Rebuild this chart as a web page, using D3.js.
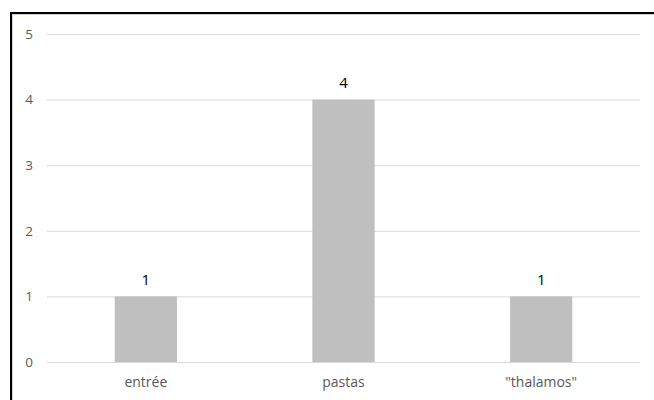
<!DOCTYPE html>
<html>
<head>
<meta charset="utf-8">
<script src="https://cdn.jsdelivr.net/npm/d3@7/dist/d3.min.js"></script>
<style>
  html, body { margin: 0; padding: 0; background: #fff; }
  svg { display: block; }
</style>
</head>
<body>
<svg id="chart" width="654" height="400"></svg>
<script>
// Data
const categories = ["entrée", "pastas", "\"thalamos\""];
const values = [1, 4, 1];
const yTicks = [0, 1, 2, 3, 4, 5];

const W = 654, H = 400;
const margin = { left: 47, right: 14, top: 34, bottom: 38 };
const svg = d3.select("#chart");
const font = "'Open Sans', 'Noto Sans', sans-serif";

// Frame around the chart area
svg.append("rect").attr("x", 0).attr("y", 0).attr("width", W).attr("height", H).attr("fill", "#fff");
svg.append("path")
  .attr("d", `M11,${H} L11,13 L${W},13`)
  .attr("fill", "none").attr("stroke", "#000").attr("stroke-width", 2);
svg.append("path")
  .attr("d", `M12.5,${H} L12.5,14.5 L${W},14.5`)
  .attr("fill", "none").attr("stroke", "#d0d0d0").attr("stroke-width", 1);

const x = d3.scaleBand()
  .domain(categories)
  .range([margin.left, W - margin.right])
  .paddingInner(0.685)
  .paddingOuter(0.3425);

const y = d3.scaleLinear()
  .domain([0, 5])
  .range([H - margin.bottom, margin.top]);

// Gridlines + y labels
const yAxis = d3.axisLeft(y).tickValues(yTicks).tickFormat(d3.format("d"))
  .tickSize(-(W - margin.right - margin.left)).tickPadding(14);
const gy = svg.append("g").attr("transform", `translate(${margin.left},0)`).call(yAxis);
gy.select(".domain").remove();
gy.selectAll(".tick line").attr("stroke", "#d9d9d9").attr("stroke-width", 1);
gy.selectAll(".tick text").attr("fill", "#595959").attr("font-size", 13.5).attr("font-family", font);

// Bars
svg.append("g").selectAll("rect")
  .data(values)
  .join("rect")
  .attr("x", (d, i) => x(categories[i]))
  .attr("y", d => y(d))
  .attr("width", x.bandwidth())
  .attr("height", d => y(0) - y(d))
  .attr("fill", "#bfbfbf");

// Value labels
svg.append("g").selectAll("text")
  .data(values)
  .join("text")
  .attr("x", (d, i) => x(categories[i]) + x.bandwidth() / 2)
  .attr("y", d => y(d) - 11.5)
  .attr("text-anchor", "middle")
  .attr("font-size", 15)
  .attr("font-family", font)
  .attr("fill", "#000")
  .text(d => d);

// Category axis labels
const xAxis = d3.axisBottom(x).tickSize(0).tickPadding(15);
const gx = svg.append("g").attr("transform", `translate(0,${y(0)})`).call(xAxis);
gx.select(".domain").remove();
gx.selectAll(".tick text").attr("fill", "#595959").attr("font-size", 14).attr("font-family", font);
</script>
</body>
</html>
